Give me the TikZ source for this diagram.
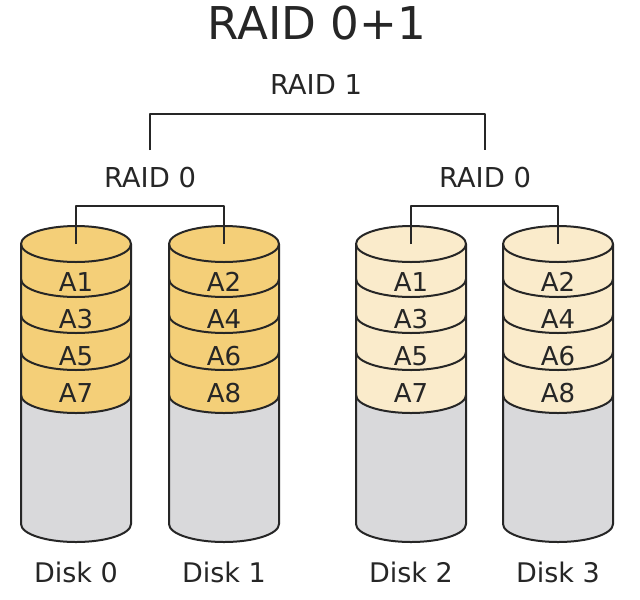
\documentclass[tikz,border=0pt]{standalone}
\usepackage{fontspec}
\setmainfont{DejaVu Sans}
\definecolor{gold}{HTML}{F4CF78}
\definecolor{cream}{HTML}{FAEBCB}
\definecolor{diskgray}{HTML}{D9D9DB}
\definecolor{ink}{HTML}{262626}
\begin{document}
\begin{tikzpicture}[x=0.5pt,y=0.5pt,line join=round,
  lbl/.style={text=ink,inner sep=0pt},
  title/.style={lbl,font=\fontsize{22.6}{27}\selectfont},
  raid/.style={lbl,font=\fontsize{13.7}{16}\selectfont},
  blk/.style={lbl,font=\fontsize{13}{16}\selectfont},
  disklbl/.style={lbl,font=\fontsize{13.5}{16}\selectfont},
  outline/.style={draw=ink,line width=1pt},
  wire/.style={draw=ink,line width=0.8pt}]
\useasboundingbox (0,0) rectangle (640,-599);
\fill[white] (0,0) rectangle (640,-599);

\node[title] (t) at (317,-23.5) {RAID 0+1};
\node[raid] (r1) at (316,-85) {RAID 1};
\node[raid] (r0a) at (150,-178) {RAID 0};
\node[raid] (r0b) at (485,-178) {RAID 0};

\foreach \cx/\col/\n/\la/\lb/\lc/\ld in
  {76/gold/0/A1/A3/A5/A7, 224/gold/1/A2/A4/A6/A8,
   411/cream/2/A1/A3/A5/A7, 558/cream/3/A2/A4/A6/A8}{
  \fill[diskgray] (\cx-55,-244) -- (\cx-55,-524)
     arc[start angle=180,end angle=360,x radius=55,y radius=18]
     -- (\cx+55,-244) -- cycle;
  \fill[\col] (\cx-55,-244) -- (\cx-55,-395)
     arc[start angle=180,end angle=360,x radius=55,y radius=18]
     -- (\cx+55,-244)
     arc[start angle=0,end angle=180,x radius=55,y radius=18] -- cycle;
  \draw[outline,fill=\col] (\cx,-244) ellipse[x radius=55,y radius=18];
  \foreach \b in {279,315,352,395}{
    \draw[outline] (\cx-55,-\b)
      arc[start angle=180,end angle=360,x radius=55,y radius=18];
  }
  \draw[outline] (\cx-55,-244) -- (\cx-55,-524)
     arc[start angle=180,end angle=360,x radius=55,y radius=18]
     -- (\cx+55,-244);
  \coordinate (top\n) at (\cx,-244);
  \node[blk] (d\n a) at (\cx,-282) {\la};
  \node[blk] (d\n b) at (\cx,-319) {\lb};
  \node[blk] (d\n c) at (\cx,-356) {\lc};
  \node[blk] (d\n d) at (\cx,-393) {\ld};
  \node[disklbl] (disk\n) at (\cx,-572) {Disk \n};
}

\coordinate (k) at (316,-114);
\coordinate (e0) at (150,-150);
\coordinate (e1) at (485,-150);
\coordinate (k0) at (150,-206);
\coordinate (k1) at (485,-206);
\draw[wire] (e0) |- (k) -| (e1);
\draw[wire] (top0) |- (k0) -| (top1);
\draw[wire] (top2) |- (k1) -| (top3);
\end{tikzpicture}
\end{document}
